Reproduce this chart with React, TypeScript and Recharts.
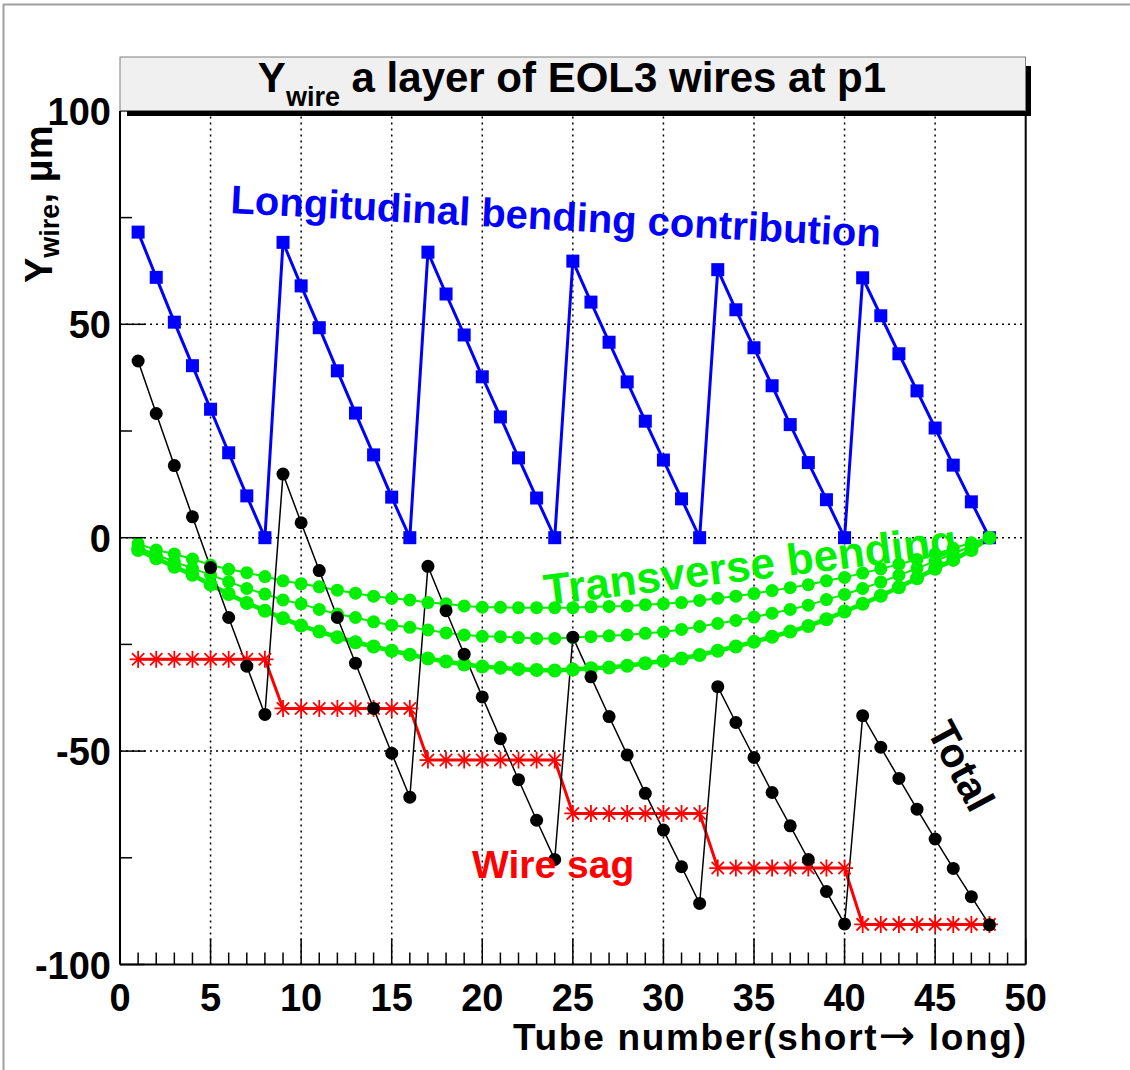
import React from 'react';
import { ComposedChart, Line, XAxis, YAxis, ReferenceLine } from 'recharts';

// Tube index along the layer (short -> long)
const tubes = [
  1, 2, 3, 4, 5, 6, 7, 8, 9, 10, 11, 12, 13, 14, 15, 16,
  17, 18, 19, 20, 21, 22, 23, 24, 25, 26, 27, 28, 29, 30, 31, 32,
  33, 34, 35, 36, 37, 38, 39, 40, 41, 42, 43, 44, 45, 46, 47, 48,
];

// Longitudinal bending contribution, um
const longitudinal = [
  71.6, 61.0, 50.5, 40.3, 30.1, 19.9, 9.8, 0,
  69.2, 59.0, 49.2, 39.1, 29.2, 19.4, 9.5, 0,
  66.9, 57.1, 47.5, 37.7, 28.3, 18.7, 9.3, 0,
  64.8, 55.2, 45.8, 36.5, 27.3, 18.2, 9.1, 0,
  62.8, 53.4, 44.5, 35.6, 26.5, 17.6, 8.9, 0,
  60.9, 52.0, 43.1, 34.4, 25.7, 17.0, 8.4, 0,
];

// Gravitational wire sag, um
const wireSag = [
  -28.5, -28.5, -28.5, -28.5, -28.5, -28.5, -28.5, -28.5,
  -40.0, -40.0, -40.0, -40.0, -40.0, -40.0, -40.0, -40.0,
  -52.1, -52.1, -52.1, -52.1, -52.1, -52.1, -52.1, -52.1,
  -64.6, -64.6, -64.6, -64.6, -64.6, -64.6, -64.6, -64.6,
  -77.4, -77.4, -77.4, -77.4, -77.4, -77.4, -77.4, -77.4,
  -90.6, -90.6, -90.6, -90.6, -90.6, -90.6, -90.6, -90.6,
];

// Total wire displacement, um
const total = [
  41.4, 29.1, 16.9, 4.9, -7.0, -18.7, -30.1, -41.4,
  14.9, 3.5, -7.7, -18.7, -29.4, -40.0, -50.5, -60.8,
  -6.7, -17.1, -27.3, -37.3, -47.1, -56.7, -66.2, -75.4,
  -23.3, -32.6, -41.9, -50.9, -59.9, -68.5, -77.1, -85.7,
  -34.9, -43.3, -51.5, -59.7, -67.5, -75.4, -82.9, -90.5,
  -41.7, -49.1, -56.4, -63.6, -70.6, -77.5, -84.1, -90.7,
];

// Transverse bending, three profiles, um
const transverseA = [
  -1.4, -2.9, -3.8, -5.0, -6.4, -7.4, -8.2, -9.1, -10.1, -10.8, -11.5, -12.3,
  -13.0, -13.7, -14.2, -14.6, -15.2, -15.5, -16.0, -16.3, -16.3, -16.4, -16.4, -16.4,
  -16.4, -16.2, -16.1, -16.0, -15.7, -15.5, -15.2, -14.7, -14.2, -13.7, -13.1, -12.4,
  -11.7, -11.0, -10.1, -9.3, -8.3, -7.3, -6.2, -5.1, -3.8, -2.5, -1.2, 0,
];
const transverseB = [
  -2.2, -4.0, -5.6, -7.2, -8.7, -10.3, -11.9, -13.2, -14.6, -15.5, -16.8, -17.9,
  -18.7, -19.7, -20.5, -21.0, -21.6, -22.3, -22.8, -23.1, -23.2, -23.4, -23.6, -23.6,
  -23.4, -23.2, -23.0, -22.8, -22.4, -22.1, -21.5, -20.8, -20.1, -19.4, -18.6, -17.7,
  -16.8, -15.8, -14.5, -13.3, -11.9, -10.4, -8.8, -7.2, -5.5, -3.7, -2.0, 0,
];
const transverseC = [
  -2.9, -4.8, -6.8, -8.7, -11.0, -13.2, -15.3, -17.1, -18.9, -20.6, -22.0, -23.3,
  -24.5, -25.5, -26.5, -27.4, -28.3, -29.0, -29.7, -30.2, -30.5, -30.8, -31.0, -31.1,
  -30.9, -30.6, -30.4, -30.0, -29.4, -28.9, -28.3, -27.5, -26.5, -25.5, -24.4, -23.2,
  -22.0, -20.7, -19.1, -17.3, -15.5, -13.6, -11.6, -9.5, -7.3, -5.2, -2.9, 0,
];

// Axis ticks and grid positions
const xTicks = [
  0, 1, 2, 3, 4, 5, 6, 7, 8, 9, 10, 11, 12, 13, 14, 15, 16, 17, 18, 19, 20, 21, 22, 23, 24, 25,
  26, 27, 28, 29, 30, 31, 32, 33, 34, 35, 36, 37, 38, 39, 40, 41, 42, 43, 44, 45, 46, 47, 48, 49, 50,
];
const xLabels = [0, 5, 10, 15, 20, 25, 30, 35, 40, 45, 50];
const yTicks = [-100, -75, -50, -25, 0, 25, 50, 75, 100];
const yLabels = [-100, -50, 0, 50, 100];
const xGrid = [5, 10, 15, 20, 25, 30, 35, 40, 45];
const yGrid = [-50, 0, 50];

const rows = tubes.map((t, i) => ({
  tube: t,
  longitudinal: longitudinal[i],
  wireSag: wireSag[i],
  total: total[i],
  transverseA: transverseA[i],
  transverseB: transverseB[i],
  transverseC: transverseC[i],
}));

const FONT = "'Liberation Sans', Arial, Helvetica, sans-serif";
const W = 1130;
const H = 1070;
const GREEN = '#00f000';

const SquareDot = (p: any) => {
  if (p.cx == null || p.cy == null) return <g key={`sq-${p.index}`} />;
  return <rect key={`sq-${p.index}`} x={p.cx - 6.5} y={p.cy - 6.5} width={13} height={13} fill="#0000ff" />;
};

const makeCircleDot = (fill: string, r: number, tag: string) => (p: any) => {
  if (p.cx == null || p.cy == null) return <g key={`${tag}-${p.index}`} />;
  return <circle key={`${tag}-${p.index}`} cx={p.cx} cy={p.cy} r={r} fill={fill} />;
};

const StarDot = (p: any) => {
  if (p.cx == null || p.cy == null) return <g key={`st-${p.index}`} />;
  const s = 8.5;
  const d = s * 0.72;
  const { cx, cy } = p;
  return (
    <g key={`st-${p.index}`} stroke="#ff0000" strokeWidth={1.8}>
      <line x1={cx - s} y1={cy} x2={cx + s} y2={cy} />
      <line x1={cx} y1={cy - s} x2={cx} y2={cy + s} />
      <line x1={cx - d} y1={cy - d} x2={cx + d} y2={cy + d} />
      <line x1={cx - d} y1={cy + d} x2={cx + d} y2={cy - d} />
    </g>
  );
};

const XTick = (props: any) => {
  const { x, y, payload } = props;
  const v = payload.value;
  const major = xLabels.includes(v);
  return (
    <g>
      <line x1={x} x2={x} y1={y} y2={y - (major ? 26 : 12)} stroke="#000" strokeWidth={1.5} />
      {major && (
        <text x={x} y={y + 46} textAnchor="middle" fontSize={38} fontWeight="bold" fontFamily={FONT} fill="#000">
          {v}
        </text>
      )}
    </g>
  );
};

const YTick = (props: any) => {
  const { x, y, payload } = props;
  const v = payload.value;
  const major = yLabels.includes(v);
  return (
    <g>
      <line x1={x} x2={x + (major ? 25 : 12)} y1={y} y2={y} stroke="#000" strokeWidth={1.5} />
      {major && (
        <text x={x - 9} y={y + 14} textAnchor="end" fontSize={38} fontWeight="bold" fontFamily={FONT} fill="#000">
          {v}
        </text>
      )}
    </g>
  );
};

const Overlay = () => (
  <svg
    width={W}
    height={H}
    style={{ position: 'absolute', left: 0, top: 0, pointerEvents: 'none' }}
    fontFamily={FONT}
    fontWeight="bold"
  >
    {/* canvas edge */}
    <line x1={3.5} y1={4} x2={3.5} y2={H} stroke="#a0a0a0" strokeWidth={2} />
    <line x1={3} y1={4.5} x2={W} y2={4.5} stroke="#a0a0a0" strokeWidth={2} />

    {/* title box with drop shadow */}
    <rect x={127} y={110.5} width={904} height={5.5} fill="#000" />
    <rect x={1025.5} y={66} width={5.5} height={50} fill="#000" />
    <rect x={120} y={57} width={905.5} height={53.5} fill="#f0f0f0" stroke="#808080" strokeWidth={1} />
    <text x={572} y={92} textAnchor="middle" fontSize={42} fill="#000">
      Y<tspan fontSize={27} dy={14}>wire</tspan>
      <tspan dy={-14}> a layer of EOL3 wires at p1</tspan>
    </text>

    {/* axis titles */}
    <text x={1026} y={1050} textAnchor="end" fontSize={37} fill="#000" textLength={513} lengthAdjust="spacing">
      Tube number(short
      <tspan fontFamily="'DejaVu Sans', sans-serif" fontWeight="normal" fontSize={44}>→</tspan>
      {' long)'}
    </text>
    <text x={52} y={283} transform="rotate(-90 52 283)" fontSize={38} fill="#000">
      Y<tspan fontSize={27} dy={7}>wire</tspan>
      <tspan dy={-7}>, μm</tspan>
    </text>

    {/* series annotations */}
    <text x={555} y={230} transform="rotate(3 555 230)" textAnchor="middle" fontSize={40} fill="#0000ff">
      Longitudinal bending contribution
    </text>
    <text x={752} y={580} transform="rotate(-7 752 580)" textAnchor="middle" fontSize={44} fill={GREEN}>
      Transverse bending
    </text>
    <text x={472} y={878} fontSize={39} fill="#ff0000">
      Wire sag
    </text>
    <text x={961} y={780} transform="rotate(62 961 766)" textAnchor="middle" fontSize={41} fill="#000">
      Total
    </text>
  </svg>
);

export default function App() {
  return (
    <div style={{ position: 'absolute', left: 0, top: 0, width: W, height: H, background: '#fff' }}>
      <ComposedChart
        width={W}
        height={H}
        data={rows}
        margin={{ top: 110.9, right: 104.3, bottom: 75.5, left: 60 }}
      >
        {xGrid.map((v) => (
          <ReferenceLine key={`gx${v}`} x={v} stroke="#000" strokeWidth={1.5} strokeDasharray="2 4" />
        ))}
        {yGrid.map((v) => (
          <ReferenceLine key={`gy${v}`} y={v} stroke="#000" strokeWidth={1.5} strokeDasharray="2 4" />
        ))}
        <ReferenceLine x={50} stroke="#000" strokeWidth={2} />
        <XAxis
          dataKey="tube"
          type="number"
          domain={[0, 50]}
          ticks={xTicks}
          interval={0}
          tickSize={0}
          tickMargin={0}
          tickLine={false}
          tick={<XTick />}
          axisLine={{ stroke: '#000', strokeWidth: 2 }}
          allowDataOverflow
        />
        <YAxis
          type="number"
          domain={[-100, 100]}
          ticks={yTicks}
          interval={0}
          tickSize={0}
          tickMargin={0}
          tickLine={false}
          tick={<YTick />}
          axisLine={{ stroke: '#000', strokeWidth: 2 }}
          allowDataOverflow
        />
        <Line
          dataKey="longitudinal"
          stroke="#0000ff"
          strokeWidth={3}
          dot={SquareDot}
          activeDot={false}
          isAnimationActive={false}
        />
        <Line
          dataKey="transverseA"
          stroke={GREEN}
          strokeWidth={2}
          dot={makeCircleDot(GREEN, 6.5, 'ta')}
          activeDot={false}
          isAnimationActive={false}
        />
        <Line
          dataKey="transverseB"
          stroke={GREEN}
          strokeWidth={2}
          dot={makeCircleDot(GREEN, 6.5, 'tb')}
          activeDot={false}
          isAnimationActive={false}
        />
        <Line
          dataKey="transverseC"
          stroke={GREEN}
          strokeWidth={4.5}
          dot={makeCircleDot(GREEN, 7, 'tc')}
          activeDot={false}
          isAnimationActive={false}
        />
        <Line
          dataKey="wireSag"
          stroke="#ff0000"
          strokeWidth={3}
          dot={StarDot}
          activeDot={false}
          isAnimationActive={false}
        />
        <Line
          dataKey="total"
          stroke="#000"
          strokeWidth={1.5}
          dot={makeCircleDot('#000', 6.5, 'tt')}
          activeDot={false}
          isAnimationActive={false}
        />
      </ComposedChart>
      <Overlay />
    </div>
  );
}
